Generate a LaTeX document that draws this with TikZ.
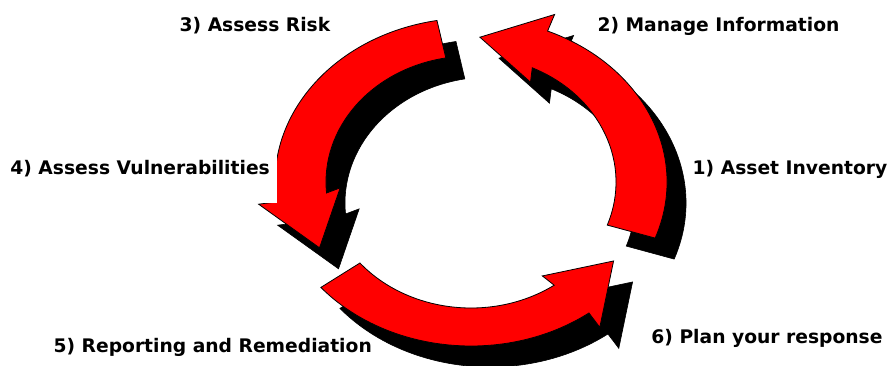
\documentclass[tikz,border=0pt]{standalone}
\usepackage{fontspec}
\setmainfont{DejaVu Sans}
\definecolor{arrowred}{RGB}{255,0,0}
\tikzset{
  lbl/.style={font=\fontsize{18.7}{22}\selectfont\bfseries, inner sep=0pt, text=black},
  redarrow/.style={fill=arrowred, draw=black, line width=0.8pt, line join=miter},
  shadowarrow/.style={fill=black, draw=black, line width=0.6pt}
}
% #1 style, #2 centre, #3 tail angle, #4 outer notch/barb angle, #5 inner notch angle, #6 inner barb angle, #7 tip angle
\newcommand{\ringarrow}[7]{%
  \path[#1] ([shift={#2}]#3:196pt and 164pt)
    arc[start angle=#3, end angle=#4, x radius=196pt, y radius=164pt]
    -- ([shift={#2}]#4:214pt and 182pt)
    -- ([shift={#2}]#7:170pt and 145pt)
    -- ([shift={#2}]#6:131pt and 112pt)
    -- ([shift={#2}]#5:145pt and 126pt)
    arc[start angle=#5, end angle=#3, x radius=145pt, y radius=126pt]
    -- cycle;}
\begin{document}
\begin{tikzpicture}[x=1pt,y=1pt]
\useasboundingbox (0,0) rectangle (892,-366);
% shadows
\ringarrow{shadowarrow}{(490pt,-203pt)}{-20}{67}{65}{63}{87}
\ringarrow{shadowarrow}{(490pt,-203pt)}{100}{187}{185}{183}{207}
\ringarrow{shadowarrow}{(490pt,-203pt)}{220}{307}{305}{303}{327}
% red arrows
\ringarrow{redarrow}{(471pt,-182pt)}{-20}{67}{65}{63}{87}
\ringarrow{redarrow}{(471pt,-182pt)}{100}{187}{185}{183}{207}
\ringarrow{redarrow}{(471pt,-182pt)}{220}{307}{305}{303}{327}
% white backing of label 4
\fill[white] (0,-134) rectangle (277,-203);
% labels
\node[lbl, anchor=base] (l3) at (255,-32) {3) Assess Risk};
\node[lbl, anchor=base] (l2) at (718.5,-32) {2) Manage Information};
\node[lbl, anchor=base] (l1) at (790,-175) {1) Asset Inventory};
\node[lbl, anchor=base east] (l4) at (270,-175) {4) Assess Vulnerabilities};
\node[lbl, anchor=base east] (l5) at (372,-352) {5) Reporting and Remediation};
\node[lbl, anchor=base] (l6) at (767,-343) {6) Plan your response};
\end{tikzpicture}
\end{document}
